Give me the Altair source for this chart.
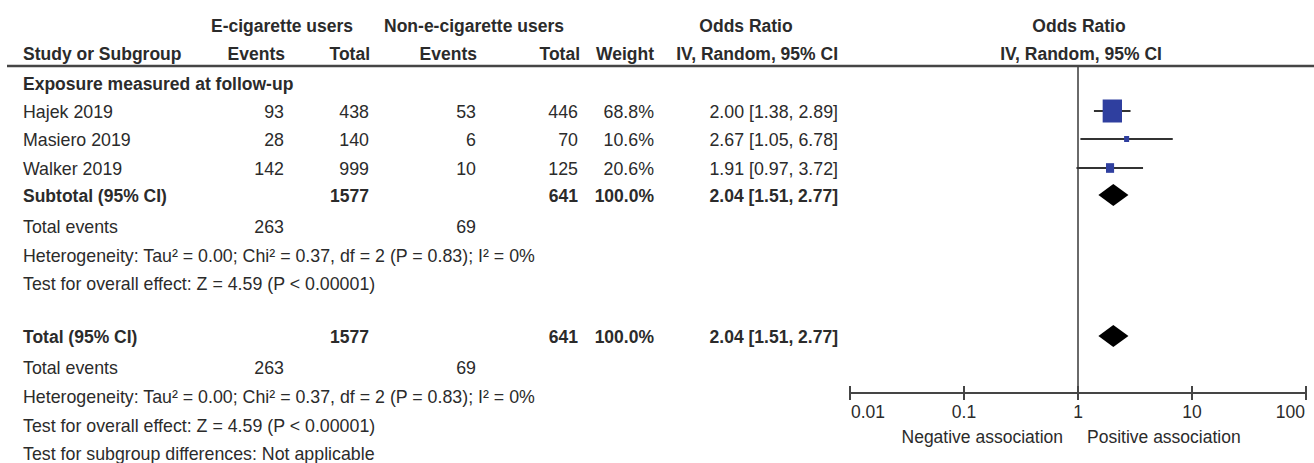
import altair as alt
import pandas as pd

# ---- study data -------------------------------------------------------------
studies = ["Hajek 2019", "Masiero 2019", "Walker 2019"]
ecig_events = [93, 28, 142]
ecig_total = [438, 140, 999]
non_events = [53, 6, 10]
non_total = [446, 70, 125]
weights = [68.8, 10.6, 20.6]
odds_ratio = [2.00, 2.67, 1.91]
ci_low = [1.38, 1.05, 0.97]
ci_high = [2.89, 6.78, 3.72]

pooled_or = 2.04
pooled_low = 1.51
pooled_high = 2.77

group_label = "Exposure measured at follow-up"
heterogeneity = "Heterogeneity: Tau² = 0.00; Chi² = 0.37, df = 2 (P = 0.83); I² = 0%"
overall_effect = "Test for overall effect: Z = 4.59 (P < 0.00001)"
subgroup_test = "Test for subgroup differences: Not applicable"

axis_ticks = [0.01, 0.1, 1, 10, 100]
axis_tick_labels = ["0.01", "0.1", "1", "10", "100"]
favours = ["Negative association", "Positive association"]

# ---- layout -----------------------------------------------------------------
W, H = 1314, 463
FONT = "Liberation Sans"
FS = 17.8
FS_BOLD = 17.5
INK = "#2b2b2b"
LINE = "#454545"
BLUE = "#2f3f9f"

X_LABEL = 23
X_EV1, X_TOT1, X_EV2, X_TOT2, X_WT, X_CI = 284, 369, 476, 578, 654, 838

Y_HEAD1, Y_HEAD2, Y_RULE, Y_GROUP = 27, 55, 66, 85
Y_STUDY = [111, 139, 168]
Y_SUB = 195
Y_TEV1, Y_HET1, Y_TEST1 = 228, 257, 285
Y_TOTAL = 336
Y_TEV2, Y_HET2, Y_TEST2, Y_SUBGRP = 369, 398, 427, 455
Y_AXIS = 393
DIAMOND_HALF = 11

px_x = alt.Scale(domain=[0, W], range=[0, W], nice=False, zero=False)
px_y = alt.Scale(domain=[0, H], range=[0, H], nice=False, zero=False)
or_x = alt.Scale(type="log", domain=[0.01, 100], range=[850, 1306], nice=False)


def fmt_ci(est, lo, hi):
    return f"{est:.2f} [{lo:.2f}, {hi:.2f}]"


# ---- table text ---------------------------------------------------------------
cells = []


def put(text, x, y, align="right", bold=False):
    cells.append({"text": str(text), "x": x, "y": y, "align": align,
                  "bold": bold})


# headers
put("E-cigarette users", 282, Y_HEAD1, "center", True)
put("Non-e-cigarette users", 474, Y_HEAD1, "center", True)
put("Odds Ratio", 746, Y_HEAD1, "center", True)
put("Odds Ratio", 1079, Y_HEAD1, "center", True)
put("Study or Subgroup", X_LABEL, Y_HEAD2, "left", True)
put("Events", X_EV1 + 1, Y_HEAD2, bold=True)
put("Total", X_TOT1 + 1, Y_HEAD2, bold=True)
put("Events", X_EV2 + 1, Y_HEAD2, bold=True)
put("Total", X_TOT2 + 2, Y_HEAD2, bold=True)
put("Weight", X_WT, Y_HEAD2, bold=True)
put("IV, Random, 95% CI", X_CI, Y_HEAD2, bold=True)
put("IV, Random, 95% CI", 1081, Y_HEAD2, "center", True)

put(group_label, X_LABEL, Y_GROUP, "left", True)

for i, name in enumerate(studies):
    y = Y_STUDY[i] + 2
    put(name, X_LABEL, y, "left")
    put(ecig_events[i], X_EV1, y)
    put(ecig_total[i], X_TOT1, y)
    put(non_events[i], X_EV2, y)
    put(non_total[i], X_TOT2, y)
    put(f"{weights[i]:.1f}%", X_WT, y)
    put(fmt_ci(odds_ratio[i], ci_low[i], ci_high[i]), X_CI, y)

tot_ecig = sum(ecig_total)
tot_non = sum(non_total)
ev_ecig = sum(ecig_events)
ev_non = sum(non_events)
w_sum = sum(weights)

for label, y_row, tev, het, test in [
    ("Subtotal (95% CI)", Y_SUB + 2, Y_TEV1, Y_HET1, Y_TEST1),
    ("Total (95% CI)", Y_TOTAL + 2, Y_TEV2, Y_HET2, Y_TEST2),
]:
    put(label, X_LABEL, y_row, "left", True)
    put(tot_ecig, X_TOT1, y_row, bold=True)
    put(tot_non, X_TOT2, y_row, bold=True)
    put(f"{w_sum:.1f}%", X_WT, y_row, bold=True)
    put(fmt_ci(pooled_or, pooled_low, pooled_high), X_CI, y_row, bold=True)
    put("Total events", X_LABEL, tev, "left")
    put(ev_ecig, X_EV1, tev)
    put(ev_non, X_EV2, tev)
    put(heterogeneity, X_LABEL, het, "left")
    put(overall_effect, X_LABEL, test, "left")

put(subgroup_test, X_LABEL, Y_SUBGRP, "left")

cells_df = pd.DataFrame(cells)


def text_layer(df, align, bold):
    return alt.Chart(df).mark_text(
        font=FONT, fontSize=FS_BOLD if bold else FS, color=INK, align=align,
        baseline="middle", fontWeight="bold" if bold else "normal",
    ).encode(
        x=alt.X("x:Q", scale=px_x, axis=None),
        y=alt.Y("y:Q", scale=px_y, axis=None),
        text="text:N",
    )


layers = []
for align in ["left", "center", "right"]:
    for bold in [False, True]:
        sub = cells_df[(cells_df["align"] == align) & (cells_df["bold"] == bold)]
        if len(sub):
            layers.append(text_layer(sub, align, bold))

# header rule across the table
header_rule = alt.Chart(pd.DataFrame({"x": [7], "x2": [W], "y": [Y_RULE]})).mark_rule(
    color=LINE, strokeWidth=2.5
).encode(
    x=alt.X("x:Q", scale=px_x, axis=None), x2="x2:Q",
    y=alt.Y("y:Q", scale=px_y, axis=None),
)
layers.append(header_rule)

# ---- forest plot ------------------------------------------------------------
study_df = pd.DataFrame({
    "study": studies, "or": odds_ratio, "lo": ci_low, "hi": ci_high,
    "weight": weights, "y": Y_STUDY,
})

null_line = alt.Chart(pd.DataFrame({"x": [1.0], "y": [Y_RULE], "y2": [Y_AXIS]})).mark_rule(
    color=LINE, strokeWidth=1.6
).encode(
    x=alt.X("x:Q", scale=or_x, axis=None),
    y=alt.Y("y:Q", scale=px_y, axis=None), y2="y2:Q",
)

ci_lines = alt.Chart(study_df).mark_rule(color="#333333", strokeWidth=2).encode(
    x=alt.X("lo:Q", scale=or_x, axis=None), x2="hi:Q",
    y=alt.Y("y:Q", scale=px_y, axis=None),
)

box_shape = "M-0.84,-1L0.84,-1L0.84,1L-0.84,1Z"
boxes = alt.Chart(study_df).mark_point(
    shape=box_shape, filled=True, opacity=1, color=BLUE, strokeWidth=0
).encode(
    x=alt.X("or:Q", scale=or_x, axis=None),
    y=alt.Y("y:Q", scale=px_y, axis=None),
    size=alt.Size("weight:Q", legend=None,
                  scale=alt.Scale(type="pow", exponent=1.44,
                                  domain=[0, max(weights)], range=[0, 529])),
)

diamond_rows = []
for key, yc in [("subtotal", Y_SUB), ("total", Y_TOTAL)]:
    diamond_rows += [
        {"d": key, "x": pooled_low, "y": yc, "y2": yc},
        {"d": key, "x": pooled_or, "y": yc - DIAMOND_HALF, "y2": yc + DIAMOND_HALF},
        {"d": key, "x": pooled_high, "y": yc, "y2": yc},
    ]
diamonds = alt.Chart(pd.DataFrame(diamond_rows)).mark_area(
    color="#000000", orient="vertical", opacity=1
).encode(
    x=alt.X("x:Q", scale=or_x, axis=None),
    y=alt.Y("y:Q", scale=px_y, axis=None), y2="y2:Q",
    detail="d:N",
)

# hand-drawn log axis
axis_line = alt.Chart(pd.DataFrame({"x": [axis_ticks[0]], "x2": [axis_ticks[-1]],
                                    "y": [Y_AXIS]})).mark_rule(
    color=LINE, strokeWidth=2
).encode(
    x=alt.X("x:Q", scale=or_x, axis=None), x2="x2:Q",
    y=alt.Y("y:Q", scale=px_y, axis=None),
)

tick_df = pd.DataFrame({"x": axis_ticks, "label": axis_tick_labels,
                        "y": Y_AXIS - 7, "y2": Y_AXIS + 7, "ly": Y_AXIS + 20})
ticks = alt.Chart(tick_df).mark_rule(color=LINE, strokeWidth=2).encode(
    x=alt.X("x:Q", scale=or_x, axis=None),
    y=alt.Y("y:Q", scale=px_y, axis=None), y2="y2:Q",
)


def tick_labels(df, align, dx=0):
    return alt.Chart(df).mark_text(
        font=FONT, fontSize=17.5, color=INK, align=align, baseline="middle", dx=dx
    ).encode(
        x=alt.X("x:Q", scale=or_x, axis=None),
        y=alt.Y("ly:Q", scale=px_y, axis=None),
        text="label:N",
    )


lab_first = tick_labels(tick_df.iloc[[0]], "left", 1)
lab_mid = tick_labels(tick_df.iloc[1:-1], "center")
lab_last = tick_labels(tick_df.iloc[[-1]], "right", -1)

fav_df = pd.DataFrame({"x": [1.0, 1.0], "text": favours, "y": [Y_AXIS + 45] * 2})
fav_left = alt.Chart(fav_df.iloc[[0]]).mark_text(
    font=FONT, fontSize=17.5, color=INK, align="right", baseline="middle", dx=-15
).encode(x=alt.X("x:Q", scale=or_x, axis=None),
         y=alt.Y("y:Q", scale=px_y, axis=None), text="text:N")
fav_right = alt.Chart(fav_df.iloc[[1]]).mark_text(
    font=FONT, fontSize=17.5, color=INK, align="left", baseline="middle", dx=9
).encode(x=alt.X("x:Q", scale=or_x, axis=None),
         y=alt.Y("y:Q", scale=px_y, axis=None), text="text:N")

layers += [null_line, ci_lines, boxes, diamonds, axis_line, ticks,
           lab_first, lab_mid, lab_last, fav_left, fav_right]

chart = alt.layer(*layers).resolve_scale(x="independent").properties(
    width=W, height=H, autosize=alt.AutoSizeParams(type="none"), padding=0,
    background="white",
).configure_view(stroke=None)

chart.save("out.html", embed_options={"renderer": "svg", "actions": False})
